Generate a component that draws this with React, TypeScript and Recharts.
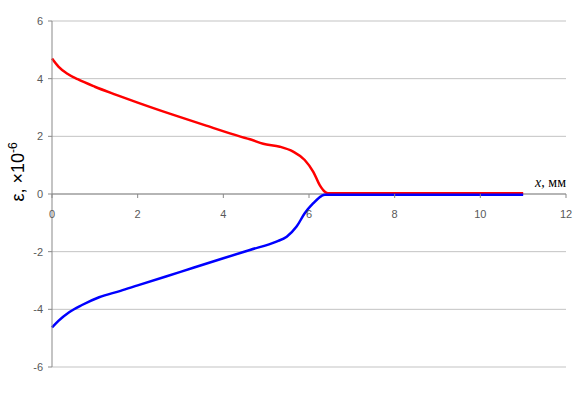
import { LineChart, Line, XAxis, YAxis, CartesianGrid, ReferenceLine } from 'recharts'

const redX = [0, 0.15, 0.35, 0.6, 1.0, 1.5, 2, 2.8, 3.6, 4.4, 4.62, 4.93, 5.32, 5.63, 5.9, 6.1, 6.25, 6.37, 6.45, 8, 11]
const redY = [4.7, 4.42, 4.18, 3.98, 3.72, 3.44, 3.17, 2.76, 2.37, 1.99, 1.9, 1.74, 1.64, 1.47, 1.18, 0.77, 0.31, 0.08, 0.03, 0.03, 0.03]

const blueX = [0, 0.15, 0.4, 0.7, 1.1, 1.6, 2, 3, 4, 4.62, 5.24, 5.48, 5.71, 5.9, 6.1, 6.29, 6.37, 8, 11]
const blueY = [-4.63, -4.4, -4.1, -3.85, -3.58, -3.36, -3.17, -2.7, -2.23, -1.94, -1.65, -1.48, -1.13, -0.67, -0.32, -0.07, -0.03, -0.03, -0.03]

const xTicks = [0, 2, 4, 6, 8, 10, 12]
const yTicks = [-6, -4, -2, 0, 2, 4, 6]

const redData = redX.map((x, i) => ({ x, y: redY[i] }))
const blueData = blueX.map((x, i) => ({ x, y: blueY[i] }))

const PLOT_TOP = 21
const PLOT_BOTTOM = 367
const ZERO_Y = (PLOT_TOP + PLOT_BOTTOM) / 2
const AXIS_GRAY = '#898989'
const TICK_COLOR = '#595959'
const TICK_FONT = '"Liberation Sans", Arial, sans-serif'

function CrossingTick(props: any) {
  const { payload } = props
  const x = payload.coordinate
  return (
    <g>
      <line x1={x} x2={x} y1={ZERO_Y} y2={ZERO_Y + 4} stroke={AXIS_GRAY} />
      <text x={x} y={ZERO_Y + 24} textAnchor="middle" fontSize={11} fill={TICK_COLOR} fontFamily={TICK_FONT}>
        {payload.value}
      </text>
    </g>
  )
}

function YTitle() {
  return (
    <text
      x={0}
      y={0}
      transform="translate(24, 172) rotate(-90)"
      textAnchor="middle"
      fontSize={18}
      fill="#000"
      fontFamily={TICK_FONT}
    >
      ε, ×10
      <tspan fontSize={12} dy={-7}>-6</tspan>
    </text>
  )
}

function XTitle() {
  return (
    <text x={566} y={187} textAnchor="end" fontSize={14} fill="#000" fontFamily='"Liberation Serif", "Times New Roman", serif'>
      <tspan fontStyle="italic">x</tspan>, мм
    </text>
  )
}

export default function App() {
  return (
    <div style={{ position: 'absolute', left: 0, top: 0, background: '#fff' }}>
      <LineChart width={579} height={393} margin={{ top: PLOT_TOP, right: 13, bottom: 0, left: 0 }}>
        <CartesianGrid vertical={false} stroke="#c3c3c3" strokeWidth={1} />
        <XAxis
          type="number"
          dataKey="x"
          domain={[0, 12]}
          ticks={xTicks}
          axisLine={false}
          tickLine={false}
          tick={<CrossingTick />}
          height={26}
          interval={0}
          label={<XTitle />}
        />
        <YAxis
          type="number"
          domain={[-6, 6]}
          ticks={yTicks}
          width={52}
          axisLine={{ stroke: AXIS_GRAY }}
          tickLine={{ stroke: AXIS_GRAY }}
          tickSize={4}
          tickMargin={5}
          tick={{ fontSize: 11, fill: TICK_COLOR, fontFamily: TICK_FONT }}
          interval={0}
          label={<YTitle />}
        />
        <ReferenceLine y={0} stroke={AXIS_GRAY} />
        <Line data={redData} dataKey="y" type="monotone" stroke="#ff0000" strokeWidth={2.5} dot={false} isAnimationActive={false} />
        <Line data={blueData} dataKey="y" type="monotone" stroke="#0000ff" strokeWidth={2.5} dot={false} isAnimationActive={false} />
      </LineChart>
    </div>
  )
}
